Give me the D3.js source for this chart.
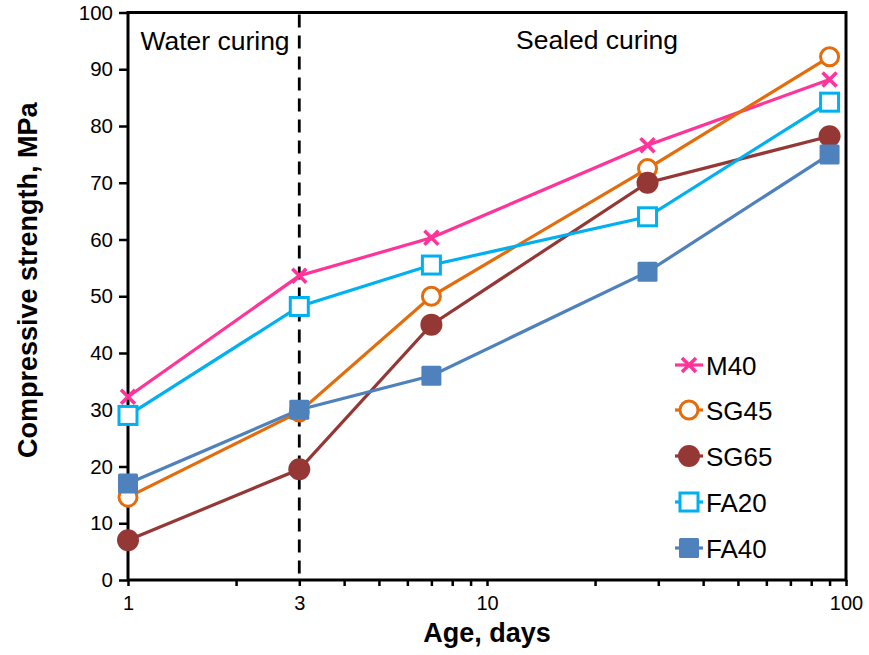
<!DOCTYPE html>
<html>
<head>
<meta charset="utf-8">
<script src="https://cdn.jsdelivr.net/npm/d3@7"></script>
<style>
  body { margin: 0; background: #fff; }
  svg { font-family: Arial, "Liberation Sans", sans-serif; }
</style>
</head>
<body>
<svg width="869" height="655"></svg>
<script>
const ages = [1, 3, 7, 28, 90];
const seriesNames = ["M40", "SG45", "SG65", "FA20", "FA40"];
const m40 = [32.3, 53.6, 60.3, 76.6, 88.2];
const sg45 = [14.6, 29.6, 50.0, 72.5, 92.2];
const sg65 = [7.0, 19.5, 45.0, 70.0, 78.2];
const fa20 = [29.0, 48.2, 55.5, 64.0, 84.2];
const fa40 = [17.0, 30.0, 36.0, 54.3, 75.0];
const yTicks = [0, 10, 20, 30, 40, 50, 60, 70, 80, 90, 100];
const xTickLabels = [1, 3, 10, 100];

const colors = {
    M40: "#FF3399",
    SG45: "#E46C0A",
    SG65: "#953735",
    FA20: "#00B0F0",
    FA40: "#4F81BD"
};

const series = [
    { name: "M40", values: m40, marker: "cross" },
    { name: "SG45", values: sg45, marker: "openCircle" },
    { name: "SG65", values: sg65, marker: "circle" },
    { name: "FA20", values: fa20, marker: "openSquare" },
    { name: "FA40", values: fa40, marker: "square" }
];

const plotLeft = 128, plotRight = 846, plotTop = 12.5, plotBottom = 580;

const xScale = d3.scaleLog()
    .domain([1, 100])
    .range([plotLeft, plotRight]);

const yScale = d3.scaleLinear()
    .domain([0, 100])
    .range([plotBottom, plotTop]);

const svg = d3.select("svg");

// frame
svg.append("rect")
    .attr("x", plotLeft)
    .attr("y", plotTop)
    .attr("width", plotRight - plotLeft)
    .attr("height", plotBottom - plotTop)
    .attr("fill", "none")
    .attr("stroke", "#000")
    .attr("stroke-width", 3);

// y axis
const yAxis = d3.axisLeft(yScale)
    .tickValues(yTicks)
    .tickSize(9)
    .tickPadding(6);

const gy = svg.append("g")
    .attr("transform", `translate(${plotLeft},0)`)
    .call(yAxis);
gy.select(".domain").remove();
gy.selectAll(".tick line").attr("stroke-width", 2.5);
gy.selectAll(".tick text")
    .attr("font-size", 20.5)
    .attr("font-family", "Arial, 'Liberation Sans', sans-serif")
    .attr("fill", "#000");

// x axis, minor ticks everywhere, labels only on a few
const allXTicks = [];
[1, 10].forEach(base => {
    for (let i = 1; i < 10; i++) allXTicks.push(base * i);
});
allXTicks.push(100);

const xAxis = d3.axisBottom(xScale)
    .tickValues(allXTicks)
    .tickSize(6)
    .tickPadding(10)
    .tickFormat(d => xTickLabels.includes(d) ? d : "");

const gx = svg.append("g")
    .attr("transform", `translate(0,${plotBottom})`)
    .call(xAxis);
gx.select(".domain").remove();
gx.selectAll(".tick line").attr("stroke-width", 2.5);
gx.selectAll(".tick text")
    .attr("font-size", 20)
    .attr("font-family", "Arial, 'Liberation Sans', sans-serif")
    .attr("fill", "#000");

// axis titles
svg.append("text")
    .attr("x", (plotLeft + plotRight) / 2)
    .attr("y", 642)
    .attr("text-anchor", "middle")
    .attr("font-size", 27)
    .attr("font-weight", "bold")
    .text("Age, days");

svg.append("text")
    .attr("transform", `translate(37,${(plotTop + plotBottom) / 2 - 16}) rotate(-90)`)
    .attr("text-anchor", "middle")
    .attr("font-size", 27)
    .attr("font-weight", "bold")
    .text("Compressive strength, MPa");

// curing regime divider
svg.append("line")
    .attr("x1", xScale(3))
    .attr("x2", xScale(3))
    .attr("y1", plotTop + 2)
    .attr("y2", plotBottom)
    .attr("stroke", "#000")
    .attr("stroke-width", 2.8)
    .attr("stroke-dasharray", "13,8");

svg.append("text")
    .attr("x", 215)
    .attr("y", 50)
    .attr("text-anchor", "middle")
    .attr("font-size", 26.5)
    .text("Water curing");

svg.append("text")
    .attr("x", 597)
    .attr("y", 49)
    .attr("text-anchor", "middle")
    .attr("font-size", 26.5)
    .text("Sealed curing");

function drawMarker(g, type, color) {
    if (type === "cross") {
        g.append("path")
            .attr("d", "M-7,-7L7,7M-7,7L7,-7")
            .attr("stroke", color)
            .attr("stroke-width", 3.5)
            .attr("fill", "none");
    } else if (type === "openCircle") {
        g.append("circle")
            .attr("r", 9)
            .attr("fill", "#fff")
            .attr("stroke", color)
            .attr("stroke-width", 3);
    } else if (type === "circle") {
        g.append("circle")
            .attr("r", 11)
            .attr("fill", color);
    } else if (type === "openSquare") {
        g.append("rect")
            .attr("x", -9).attr("y", -9)
            .attr("width", 18).attr("height", 18)
            .attr("fill", "#fff")
            .attr("stroke", color)
            .attr("stroke-width", 3);
    } else if (type === "square") {
        g.append("rect")
            .attr("x", -10).attr("y", -10)
            .attr("width", 20).attr("height", 20)
            .attr("rx", 1.5)
            .attr("fill", color);
    }
}

const line = d3.line()
    .x((d, i) => xScale(ages[i]))
    .y(d => yScale(d));

// draw lines first then markers, per series order
series.forEach(s => {
    const g = svg.append("g");
    g.append("path")
        .datum(s.values)
        .attr("d", line)
        .attr("fill", "none")
        .attr("stroke", colors[s.name])
        .attr("stroke-width", 3.2);
    s.values.forEach((v, i) => {
        const mg = g.append("g")
            .attr("transform", `translate(${xScale(ages[i])},${yScale(v)})`);
        drawMarker(mg, s.marker, colors[s.name]);
    });
});

// legend
const legendY = [365, 410, 456, 502, 548];
series.forEach((s, i) => {
    const g = svg.append("g")
        .attr("transform", `translate(689,${legendY[i]})`);
    g.append("line")
        .attr("x1", -14).attr("x2", 14)
        .attr("stroke", colors[s.name])
        .attr("stroke-width", 3.2);
    drawMarker(g, s.marker, colors[s.name]);
    g.append("text")
        .attr("x", 17)
        .attr("y", 9.5)
        .attr("font-size", 26)
        .text(seriesNames[i]);
});
</script>
</body>
</html>
